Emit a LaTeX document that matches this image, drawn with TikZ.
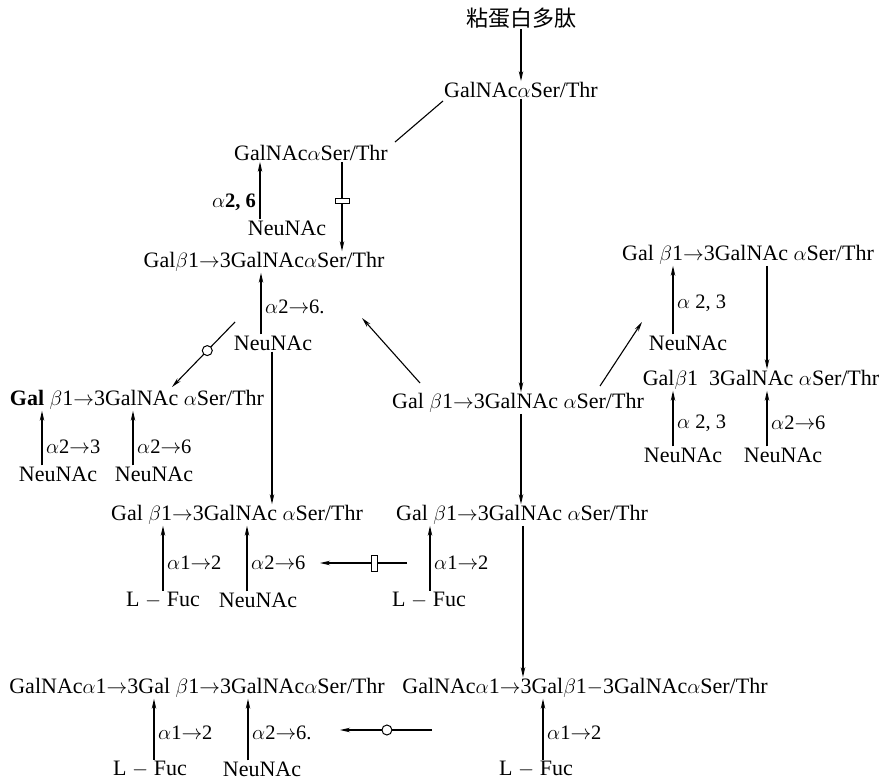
\documentclass[tikz,border=0pt]{standalone}
\usepackage{fontspec}
\setmainfont{Liberation Serif}
\newfontfamily\cjk{Noto Sans CJK SC}
\usetikzlibrary{arrows.meta,calc}
\begin{document}
\begin{tikzpicture}[x=1pt,y=-1pt,
  txt/.style={inner sep=1pt,font=\fontsize{22}{25}\selectfont},
  lab/.style={inner sep=1pt,anchor=west,font=\fontsize{20.5}{23}\selectfont},
  arr/.style={line width=1.1pt,-{Stealth[length=10pt,width=4.5pt]}},
  ln/.style={line width=1.1pt},
  rbox/.style={draw,line width=1pt,fill=white,inner sep=0pt},
  cbox/.style={draw,circle,line width=1pt,fill=white,inner sep=0pt,minimum size=10pt}]
\useasboundingbox (0,0) rectangle (886,781);
% nodes
\node[txt] (title) at (521,18) {\cjk 粘蛋白多肽};
\node[txt] (n0) at (521,90) {GalNAc$\alpha$Ser/Thr};
\node[txt] (n1) at (311,153) {GalNAc$\alpha$Ser/Thr};
\node[txt] (nn1) at (287,228) {NeuNAc};
\node[txt] (n2) at (264,262) {Gal$\beta$1$\to$3GalNAc$\alpha$Ser/Thr};
\node[txt] (nn2) at (273,343) {NeuNAc};
\node[txt] (n3) at (137,400) {\textbf{Gal} $\beta$1$\to$3GalNAc $\alpha$Ser/Thr};
\node[txt] (nn3a) at (58,474) {NeuNAc};
\node[txt] (nn3b) at (154,474) {NeuNAc};
\node[txt] (m) at (518,403) {Gal $\beta$1$\to$3GalNAc $\alpha$Ser/Thr};
\node[txt] (r1) at (748,255) {Gal $\beta$1$\to$3GalNAc $\alpha$Ser/Thr};
\node[txt] (rn1) at (688,343) {NeuNAc};
\node[txt] (r2) at (761,380) {Gal$\beta$1\ \ 3GalNAc $\alpha$Ser/Thr};
\node[txt] (rn2a) at (683,455) {NeuNAc};
\node[txt] (rn2b) at (783,455) {NeuNAc};
\node[txt] (n7) at (237,515) {Gal $\beta$1$\to$3GalNAc $\alpha$Ser/Thr};
\node[txt] (f1) at (163,600) {L $-$ Fuc};
\node[txt] (nn7) at (258,600) {NeuNAc};
\node[txt] (n8) at (522,515) {Gal $\beta$1$\to$3GalNAc $\alpha$Ser/Thr};
\node[txt] (f2) at (429,600) {L $-$ Fuc};
\node[txt] (b1) at (197,688) {GalNAc$\alpha$1$\to$3Gal $\beta$1$\to$3GalNAc$\alpha$Ser/Thr};
\node[txt] (b2) at (585,688) {GalNAc$\alpha$1$\to$3Gal$\beta$1$-$3GalNAc$\alpha$Ser/Thr};
\node[txt] (f3) at (150,769) {L $-$ Fuc};
\node[txt] (nb) at (262,769) {NeuNAc};
\node[txt] (f4) at (536,769) {L $-$ Fuc};
% x positions of vertical connectors
\coordinate (xa) at (521,0);
\coordinate (xb) at (260,0);
\coordinate (xc) at (342,0);
\coordinate (xd) at (261,0);
\coordinate (xe) at (272,0);
\coordinate (xf) at (42,0);
\coordinate (xg) at (133,0);
\coordinate (xh) at (673,0);
\coordinate (xi) at (767,0);
\coordinate (xj) at (163,0);
\coordinate (xk) at (247,0);
\coordinate (xl) at (430,0);
\coordinate (xm) at (523,0);
\coordinate (xn) at (154,0);
\coordinate (xo) at (248,0);
\coordinate (xp) at (543,0);
% free ends
\coordinate (d1s) at (235,322);
\coordinate (d1e) at (172,387);
\coordinate (d2s) at (420,383);
\coordinate (d2e) at (362,318);
\coordinate (d3s) at (600,386);
\coordinate (d3e) at (642,322);
\coordinate (h1s) at (407,563);
\coordinate (h1e) at (320,563);
\coordinate (h2s) at (432,730);
\coordinate (h2e) at (340,730);
% connectors
\draw[arr] (title.south) -- (n0.north);
\draw[ln] ($(n0.south west)+(0,2)$) -- ($(n1.north east)+(6,-2)$);
\draw[arr] (xa |- n0.south) -- (xa |- m.north);
\draw[arr] (xb |- nn1.north) -- (xb |- n1.south);
\node[lab,anchor=east] (l1) at (257,202) {\bfseries $\alpha$2, 6};
\draw[arr] (xc |- n1.south) -- node[rbox,pos=0.44,minimum width=14pt,minimum height=5pt] {} (xc |- n2.north);
\draw[arr] (xd |- nn2.north) -- (xd |- n2.south);
\node[lab] (l2) at (264,307) {$\alpha$2$\to$6.};
\draw[arr] (d1s) -- node[cbox,pos=0.44] {} (d1e);
\draw[arr] (xe |- nn2.south) -- (xe |- n7.north);
\draw[arr] (xf |- nn3a.north) -- (xf |- n3.south);
\node[lab] (l3) at (45,447) {$\alpha$2$\to$3};
\draw[arr] (xg |- nn3b.north) -- (xg |- n3.south);
\node[lab] (l4) at (136,447) {$\alpha$2$\to$6};
\draw[arr] (d2s) -- (d2e);
\draw[arr] (d3s) -- (d3e);
\draw[arr] (xh |- rn1.north) -- (xh |- r1.south);
\node[lab] (l5) at (676,303) {$\alpha$ 2, 3};
\draw[arr] (xi |- r1.south) -- (xi |- r2.north);
\draw[arr] (xh |- rn2a.north) -- (xh |- r2.south);
\node[lab] (l6) at (676,423) {$\alpha$ 2, 3};
\draw[arr] (xi |- rn2b.north) -- (xi |- r2.south);
\node[lab] (l7) at (770,423) {$\alpha$2$\to$6};
\draw[arr] (xa |- m.south) -- (xa |- n8.north);
\draw[arr] (xj |- f1.north) -- (xj |- n7.south);
\node[lab] (l8) at (166,563) {$\alpha$1$\to$2};
\draw[arr] (xk |- nn7.north) -- (xk |- n7.south);
\node[lab] (l9) at (250,563) {$\alpha$2$\to$6};
\draw[arr] (h1s) -- node[rbox,pos=0.37,minimum width=6pt,minimum height=16pt] {} (h1e);
\draw[arr] (xl |- f2.north) -- (xl |- n8.south);
\node[lab] (l10) at (433,563) {$\alpha$1$\to$2};
\draw[arr] (xm |- n8.south) -- (xm |- b2.north);
\draw[arr] (xn |- f3.north) -- (xn |- b1.south);
\node[lab] (l11) at (157,733) {$\alpha$1$\to$2};
\draw[arr] (xo |- nb.north) -- (xo |- b1.south);
\node[lab] (l12) at (251,733) {$\alpha$2$\to$6.};
\draw[arr] (h2s) -- node[cbox,pos=0.49] {} (h2e);
\draw[arr] (xp |- f4.north) -- (xp |- b2.south);
\node[lab] (l13) at (546,733) {$\alpha$1$\to$2};
\end{tikzpicture}
\end{document}
